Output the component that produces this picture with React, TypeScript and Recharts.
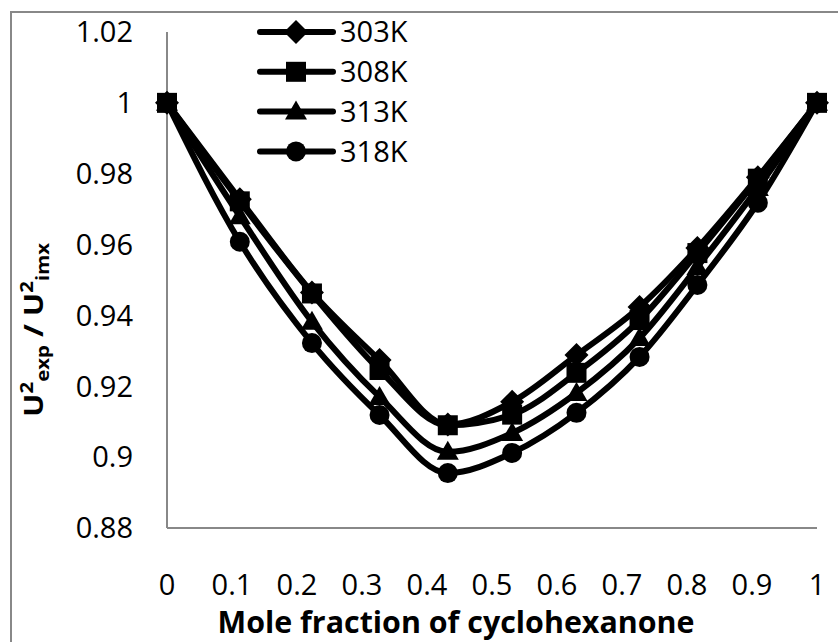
import React from "react";
import { LineChart, Line, XAxis, YAxis, Legend } from "recharts";

// mole fraction of cyclohexanone
const moleFraction = [0, 0.112, 0.223, 0.327, 0.432, 0.531, 0.63, 0.727, 0.816, 0.909, 1];

// U²exp / U²imx at each temperature
const r303 = [1, 0.9728, 0.9465, 0.9274, 0.9092, 0.9156, 0.9288, 0.9424, 0.959, 0.979, 1];
const r308 = [1, 0.9722, 0.9462, 0.9246, 0.909, 0.912, 0.9238, 0.9387, 0.9576, 0.9786, 1];
const r313 = [1, 0.968, 0.9382, 0.917, 0.9015, 0.9068, 0.9181, 0.9336, 0.9537, 0.976, 1];
const r318 = [1, 0.9608, 0.9322, 0.9119, 0.8955, 0.9012, 0.9125, 0.9283, 0.9486, 0.9718, 1];

const xTicks = [0, 0.1, 0.2, 0.3, 0.4, 0.5, 0.6, 0.7, 0.8, 0.9, 1];
const yTicks = [0.88, 0.9, 0.92, 0.94, 0.96, 0.98, 1, 1.02];

const seriesList = [
  { key: "t303", name: "303K", shape: "diamond" },
  { key: "t308", name: "308K", shape: "square" },
  { key: "t313", name: "313K", shape: "triangle" },
  { key: "t318", name: "318K", shape: "circle" },
];

const data = moleFraction.map((x, i) => ({
  x,
  t303: r303[i],
  t308: r308[i],
  t313: r313[i],
  t318: r318[i],
}));

const FONT = "'Open Sans', sans-serif";
const AXIS_GREY = "#888888";

function Marker({ cx, cy, shape }: { cx: number; cy: number; shape: string }) {
  if (cx == null || cy == null) return null;
  if (shape === "diamond") {
    const d = 12;
    return <polygon points={`${cx},${cy - d} ${cx + d},${cy} ${cx},${cy + d} ${cx - d},${cy}`} fill="#000" />;
  }
  if (shape === "square") {
    return <rect x={cx - 10} y={cy - 10} width={20} height={20} fill="#000" />;
  }
  if (shape === "triangle") {
    return <polygon points={`${cx},${cy - 11} ${cx + 11},${cy + 8} ${cx - 11},${cy + 8}`} fill="#000" />;
  }
  return <circle cx={cx} cy={cy} r={10} fill="#000" />;
}

const fmt = (v: number) => String(parseFloat(v.toFixed(2)));

function LegendBox() {
  return (
    <svg width={190} height={175}>
      {seriesList.map((s, i) => {
        const y = 32 + i * 39.8;
        return (
          <g key={s.key}>
            <line x1={10} x2={83} y1={y} y2={y} stroke="#000" strokeWidth={6} strokeLinecap="round" />
            <Marker cx={46} cy={y} shape={s.shape} />
            <text x={90} y={y} dy="0.36em" fontFamily={FONT} fontSize={29} fill="#000">
              {s.name}
            </text>
          </g>
        );
      })}
    </svg>
  );
}

function YTitle() {
  const cx = 43;
  const cy = 330;
  return (
    <text
      x={cx}
      y={cy}
      transform={`rotate(-90 ${cx} ${cy})`}
      textAnchor="middle"
      fontFamily={FONT}
      fontWeight="bold"
      fontSize={26}
      fill="#000"
      textLength={174}
      lengthAdjust="spacingAndGlyphs"
    >
      <tspan>U</tspan>
      <tspan fontSize={17} dy={-10}>2</tspan>
      <tspan fontSize={17} dy={16}>exp</tspan>
      <tspan dy={-6}> / U</tspan>
      <tspan fontSize={17} dy={-10}>2</tspan>
      <tspan fontSize={17} dy={16}>imx</tspan>
    </text>
  );
}

function XTitle() {
  return (
    <text
      x={456}
      y={633}
      textAnchor="middle"
      fontFamily={FONT}
      fontWeight="bold"
      fontSize={30}
      fill="#000"
      textLength={477}
      lengthAdjust="spacingAndGlyphs"
    >
      Mole fraction of cyclohexanone
    </text>
  );
}

const drawOrder = ["t318", "t313", "t303", "t308"];

export default function App() {
  return (
    <>
      <style>{"body{margin:0;overflow:hidden;background:#fff}"}</style>
      <div style={{ position: "relative", width: 838, height: 642 }}>
        <div
          style={{
            position: "absolute",
            left: 10,
            top: 11,
            width: 840,
            height: 640,
            borderLeft: `2px solid ${AXIS_GREY}`,
            borderTop: `2px solid ${AXIS_GREY}`,
          }}
        />
        <div style={{ position: "absolute", left: 0, top: 0 }}>
          <LineChart width={838} height={642} data={data} margin={{ top: 32, right: 21, bottom: 14, left: 32 }}>
            <XAxis
              dataKey="x"
              type="number"
              domain={[0, 1]}
              ticks={xTicks}
              tickFormatter={fmt}
              interval={0}
              height={100}
              tickLine={false}
              tickMargin={40}
              axisLine={{ stroke: AXIS_GREY, strokeWidth: 2 }}
              tick={{ fontFamily: FONT, fontSize: 29, fill: "#000" }}
              label={{ content: () => <XTitle /> }}
            />
            <YAxis
              type="number"
              domain={[0.88, 1.02]}
              ticks={yTicks}
              tickFormatter={fmt}
              interval={0}
              width={135}
              tickLine={false}
              tickMargin={28}
              axisLine={{ stroke: AXIS_GREY, strokeWidth: 2 }}
              tick={{ fontFamily: FONT, fontSize: 29, fill: "#000" }}
              label={{ content: () => <YTitle /> }}
            />
            <Legend
              layout="vertical"
              align="center"
              verticalAlign="middle"
              wrapperStyle={{ left: 250, top: 0, width: 190, height: 175 }}
              content={() => <LegendBox />}
            />
            {drawOrder.map((k) => {
              const s = seriesList.find((q) => q.key === k)!;
              return (
                <Line
                  key={s.key}
                  dataKey={s.key}
                  name={s.name}
                  type="monotone"
                  stroke="#000"
                  strokeWidth={6}
                  isAnimationActive={false}
                  dot={(p: any) => <Marker key={`${s.key}-${p.index}`} cx={p.cx} cy={p.cy} shape={s.shape} />}
                  activeDot={false}
                />
              );
            })}
          </LineChart>
        </div>
      </div>
    </>
  );
}
